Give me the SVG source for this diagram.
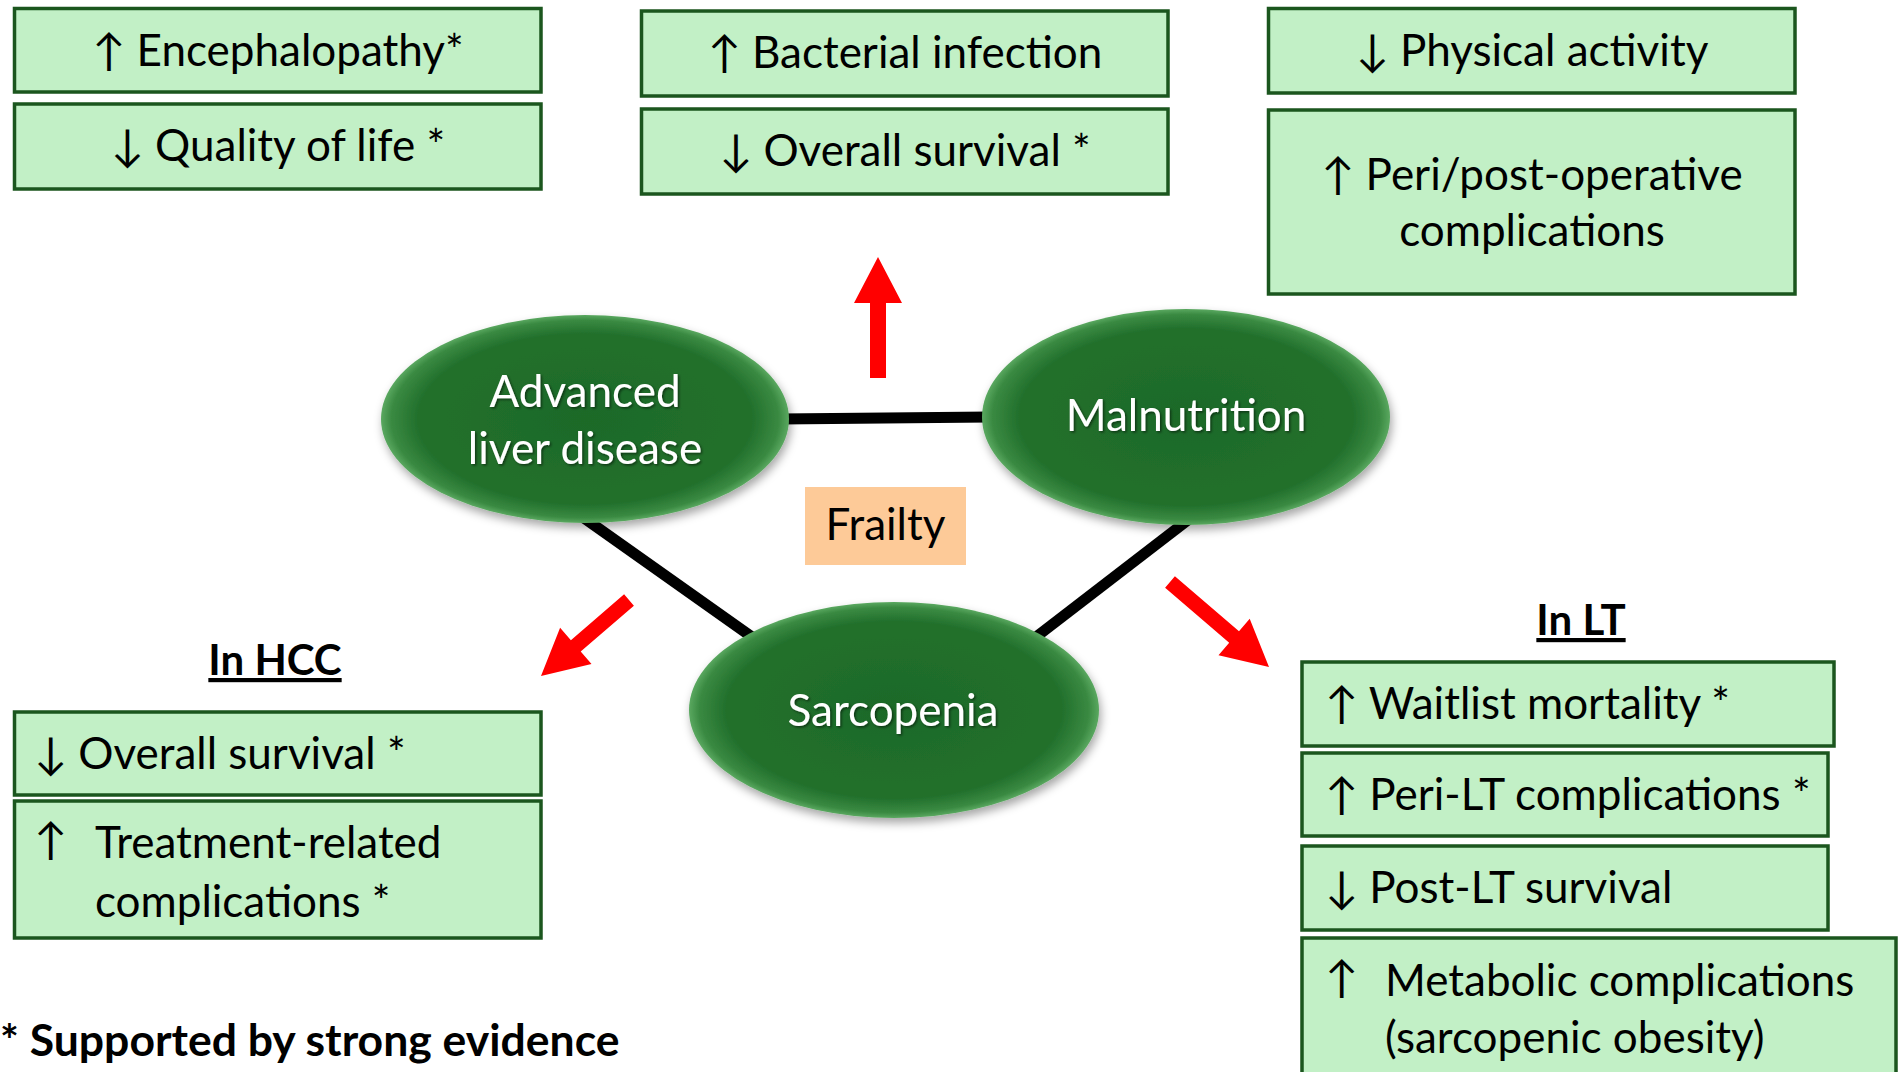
<svg xmlns="http://www.w3.org/2000/svg" width="1898" height="1072" viewBox="0 0 1898 1072">
<defs>
<radialGradient id="eg" cx="50%" cy="50%" r="50%">
<stop offset="0" stop-color="#1d6a28"/>
<stop offset="0.82" stop-color="#22702c"/>
<stop offset="0.95" stop-color="#3a8a42"/>
<stop offset="1" stop-color="#5aa860"/>
</radialGradient>
<filter id="sh" x="-20%" y="-20%" width="140%" height="150%">
<feDropShadow dx="2" dy="5" stdDeviation="5" flood-color="#000" flood-opacity="0.35"/>
</filter>
<filter id="tsh" x="-10%" y="-20%" width="120%" height="150%">
<feDropShadow dx="1.5" dy="1.5" stdDeviation="1" flood-color="#000" flood-opacity="0.5"/>
</filter>
<style>
.box{fill:#c2f0c6;stroke:#1b561e;stroke-width:3.5}
.t{font-family:Lato,"Liberation Sans",sans-serif;font-size:44px;fill:#000}
.c{text-anchor:middle}
.w{font-family:Lato,"Liberation Sans",sans-serif;font-size:44px;fill:#fff;text-anchor:middle}
.h{font-family:Lato,"Liberation Sans",sans-serif;font-size:42px;font-weight:bold;fill:#000;text-anchor:middle;text-decoration:underline}
.ell{fill:url(#eg)}
.ln{stroke:#000;stroke-width:11;fill:none}
.ra{fill:#ff0000}
</style>
</defs>
<rect width="1898" height="1072" fill="#fff"/>

<g id="connectors">
<line class="ln" x1="780" y1="419" x2="990" y2="417"/>
<line class="ln" x1="584" y1="518" x2="752" y2="637"/>
<line class="ln" x1="1188" y1="520" x2="1036" y2="637"/>
</g>

<g id="red-arrows">
<polygon class="ra" points="870,378 886,378 886,303 902,303 878,257 854,303 870,303"/>
<polygon class="ra" points="624.1,594.3 570.9,640.2 560.1,627.7 541,676 591.5,664.1 580.7,651.6 633.9,605.7"/>
<polygon class="ra" points="1174.9,576.3 1239.0,631.3 1249.7,618.8 1269,667 1218.5,655.2 1229.2,642.7 1165.1,587.7"/>
</g>

<g id="node-ald">
<ellipse class="ell" cx="585" cy="419" rx="204" ry="104" filter="url(#sh)"/>
<g filter="url(#tsh)">
<text class="w" x="585" y="407">Advanced</text>
<text class="w" x="585" y="464">liver disease</text>
</g>
</g>
<g id="node-malnutrition">
<ellipse class="ell" cx="1186" cy="417" rx="204" ry="108" filter="url(#sh)"/>
<text class="w" x="1186" y="431" filter="url(#tsh)">Malnutrition</text>
</g>
<g id="node-sarcopenia">
<ellipse class="ell" cx="894" cy="710" rx="205" ry="108" filter="url(#sh)"/>
<text class="w" x="893" y="726" filter="url(#tsh)">Sarcopenia</text>
</g>
<g id="node-frailty">
<rect x="805" y="487" width="161" height="78" fill="#fdca98"/>
<text class="t c" x="885.5" y="540">Frailty</text>
</g>

<g id="box-encephalopathy">
<rect class="box" x="14.5" y="8.5" width="526.5" height="83.5"/>
<text class="t c" x="278" y="66">↑ Encephalopathy*</text>
</g>
<g id="box-qol">
<rect class="box" x="14.5" y="104" width="526.5" height="85"/>
<text class="t c" x="278" y="161">↓ Quality of life *</text>
</g>
<g id="box-bacterial">
<rect class="box" x="641.5" y="11" width="526.5" height="85"/>
<text class="t c" x="905" y="68">↑ Bacterial infection</text>
</g>
<g id="box-overall-top">
<rect class="box" x="641.5" y="109" width="526.5" height="85"/>
<text class="t c" x="905" y="166">↓ Overall survival *</text>
</g>
<g id="box-physical">
<rect class="box" x="1268.5" y="8.5" width="526.5" height="84.5"/>
<text class="t c" x="1532" y="66">↓ Physical activity</text>
</g>
<g id="box-periop">
<rect class="box" x="1268.5" y="110" width="526.5" height="184"/>
<text class="t c" x="1532" y="190">↑ Peri/post-operative</text>
<text class="t c" x="1532" y="246">complications</text>
</g>

<g id="label-hcc">
<text class="h" x="275" y="675">In HCC</text>
</g>
<g id="box-hcc-survival">
<rect class="box" x="14.5" y="712" width="526.5" height="83"/>
<text class="t" x="34" y="769">↓ Overall survival *</text>
</g>
<g id="box-hcc-treatment">
<rect class="box" x="14.5" y="801" width="526.5" height="137"/>
<text class="t" x="34" y="855">↑</text>
<text class="t" x="95" y="858">Treatment-related</text>
<text class="t" x="95" y="917">complications *</text>
</g>

<g id="label-lt">
<text class="h" x="1581" y="635">In LT</text>
</g>
<g id="box-waitlist">
<rect class="box" x="1302" y="662" width="532" height="84"/>
<text class="t" x="1325" y="719">↑ Waitlist mortality *</text>
</g>
<g id="box-perilt">
<rect class="box" x="1302" y="753" width="526" height="83"/>
<text class="t" x="1325" y="810">↑ Peri-LT complications *</text>
</g>
<g id="box-postlt">
<rect class="box" x="1302" y="846" width="526" height="84"/>
<text class="t" x="1325" y="903">↓ Post-LT survival</text>
</g>
<g id="box-metabolic">
<rect class="box" x="1302" y="938" width="594" height="150"/>
<text class="t" x="1325" y="993">↑</text>
<text class="t" x="1385" y="996">Metabolic complications</text>
<text class="t" x="1385" y="1053">(sarcopenic obesity)</text>
</g>

<g id="footnote">
<text x="0" y="1056" font-family="Lato,'Liberation Sans',sans-serif" font-size="44.5" font-weight="bold" fill="#000">* Supported by strong evidence</text>
</g>
</svg>
